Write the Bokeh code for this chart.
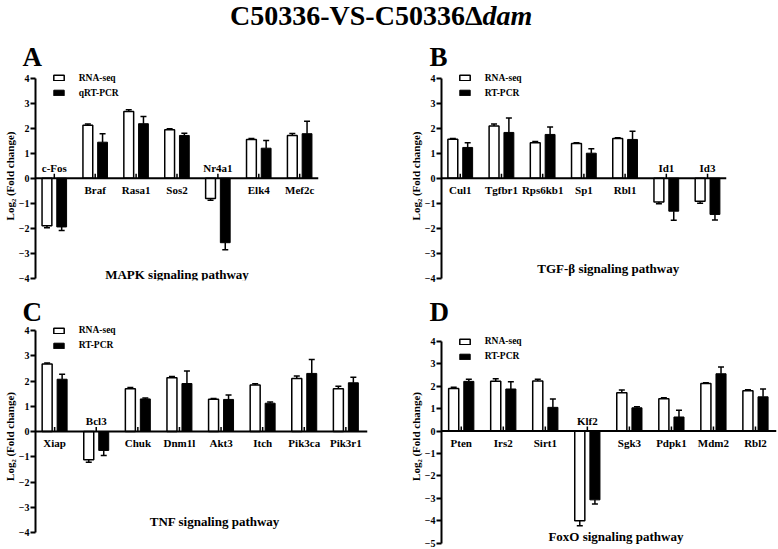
import numpy as np
from bokeh.plotting import figure
from bokeh.models import Range1d, FixedTicker, Span, Legend, LegendItem, Label, Div
from bokeh.layouts import column, row
from bokeh.embed import file_html
from bokeh.resources import INLINE
from bokeh.core.properties import value

FONT = "Liberation Serif"

# ---------------- data ----------------
a_genes = ["c-Fos", "Braf", "Rasa1", "Sos2", "Nr4a1", "Elk4", "Mef2c"]
a_rna = [-1.90, 2.12, 2.67, 1.94, -0.81, 1.55, 1.71]
a_rna_err = [0.08, 0.05, 0.07, 0.04, 0.07, 0.04, 0.08]
a_pcr = [-1.95, 1.44, 2.18, 1.71, -2.58, 1.20, 1.78]
a_pcr_err = [0.14, 0.34, 0.29, 0.09, 0.28, 0.31, 0.50]

b_genes = ["Cul1", "Tgfbr1", "Rps6kb1", "Sp1", "Rbl1", "Id1", "Id3"]
b_rna = [1.56, 2.09, 1.42, 1.39, 1.59, -0.95, -0.92]
b_rna_err = [0.03, 0.08, 0.05, 0.03, 0.03, 0.07, 0.08]
b_pcr = [1.23, 1.83, 1.75, 1.00, 1.55, -1.32, -1.45]
b_pcr_err = [0.19, 0.58, 0.30, 0.18, 0.33, 0.36, 0.22]

c_genes = ["Xiap", "Bcl3", "Chuk", "Dnm1l", "Akt3", "Itch", "Pik3ca", "Pik3r1"]
c_rna = [2.67, -1.12, 1.69, 2.13, 1.28, 1.84, 2.10, 1.69]
c_rna_err = [0.04, 0.10, 0.05, 0.05, 0.03, 0.05, 0.10, 0.10]
c_pcr = [2.07, -0.75, 1.29, 1.90, 1.27, 1.12, 2.30, 1.93]
c_pcr_err = [0.20, 0.20, 0.04, 0.50, 0.18, 0.05, 0.55, 0.22]

d_genes = ["Pten", "Irs2", "Sirt1", "Klf2", "Sgk3", "Pdpk1", "Mdm2", "Rbl2"]
d_rna = [1.90, 2.22, 2.24, -4.00, 1.71, 1.44, 2.12, 1.80]
d_rna_err = [0.06, 0.12, 0.08, 0.22, 0.12, 0.05, 0.04, 0.05]
d_pcr = [2.22, 1.88, 1.06, -3.07, 1.04, 0.63, 2.56, 1.53]
d_pcr_err = [0.09, 0.32, 0.37, 0.19, 0.05, 0.30, 0.30, 0.35]

series_names = ["RNA-seq", "qRT-PCR", "RT-PCR"]
y_label = "Log\u2082 (Fold change)"


def panel(letter, genes, rna, rna_err, pcr, pcr_err, pcr_name, pathway, path_x, path_y,
          width, height, mbl, mbr, mbt, mbb, x_start, x_end, uy, d_top, ymin_tick,
          letter_dx):
    n = len(genes)
    idx = np.arange(n, dtype=float)
    rna = np.array(rna, dtype=float)
    pcr = np.array(pcr, dtype=float)
    rna_err = np.array(rna_err, dtype=float)
    pcr_err = np.array(pcr_err, dtype=float)

    fh = height - mbt - mbb
    y_end = 4 + d_top / uy
    y_start = y_end - fh / uy

    p = figure(width=width, height=height,
               x_range=Range1d(x_start, x_end), y_range=Range1d(y_start, y_end),
               output_backend="svg", toolbar_location=None, x_axis_location=None,
               min_border_left=mbl, min_border_right=mbr,
               min_border_top=mbt, min_border_bottom=mbb)
    p.xgrid.visible = False
    p.ygrid.visible = False
    p.outline_line_color = None
    p.background_fill_color = "white"
    p.border_fill_color = "white"

    # panel letter as the plot title
    p.title.text = letter
    p.title.align = "left"
    p.title.offset = letter_dx
    p.title.standoff = 0
    p.title.text_font = FONT
    p.title.text_font_style = "bold"
    p.title.text_font_size = "27px"
    p.title.text_color = "black"

    ax = p.yaxis[0]
    ax.ticker = FixedTicker(ticks=list(range(ymin_tick, 5)))
    ax.bounds = (ymin_tick, 4)
    ax.axis_line_width = 2
    ax.axis_line_color = "black"
    ax.major_tick_line_width = 2
    ax.major_tick_line_color = "black"
    ax.major_tick_out = 5
    ax.major_tick_in = 0
    ax.minor_tick_out = 0
    ax.minor_tick_in = 0
    ax.major_label_text_font = FONT
    ax.major_label_text_font_style = "bold"
    ax.major_label_text_font_size = "10px"
    ax.major_label_text_color = "black"
    ax.major_label_standoff = 1
    ax.axis_label = y_label
    ax.axis_label_text_font = FONT
    ax.axis_label_text_font_style = "bold"
    ax.axis_label_text_font_size = "11px"
    ax.axis_label_text_color = "black"
    ax.axis_label_standoff = 0

    off = 0.18
    bw = 0.24
    r_rna = p.vbar(x=idx - off, top=rna, bottom=0, width=bw,
                   fill_color="white", line_color="black", line_width=1.5)
    r_pcr = p.vbar(x=idx + off, top=pcr, bottom=0, width=bw,
                   fill_color="black", line_color="black", line_width=1)

    # error bars (outward only)
    for xs, vals, errs in ((idx - off, rna, rna_err), (idx + off, pcr, pcr_err)):
        ends = vals + np.sign(vals) * errs
        p.segment(x0=xs, y0=vals, x1=xs, y1=ends, line_color="black", line_width=1.5)
        p.scatter(x=xs, y=ends, marker="dash", size=6, line_color="black", line_width=1.5)

    # zero line and category ticks
    p.add_layout(Span(location=0, dimension="width", line_color="black", line_width=2))
    p.segment(x0=idx, y0=0, x1=idx, y1=4.5 / uy, line_color="black", line_width=1.5)

    # gene labels
    lab_y = np.where(rna < 0, 10.5 / uy, -11.5 / uy)
    p.text(x=idx, y=lab_y, text=genes, text_font=value(FONT), text_font_style="bold",
           text_font_size="11px", text_align="center", text_baseline="middle",
           text_color="black")

    # pathway label
    p.add_layout(Label(x=path_x, y=path_y, text=pathway, text_font=FONT,
                       text_font_style="bold", text_font_size="13px",
                       text_align="center", text_baseline="middle", text_color="black"))

    # legend placed from the frame's bottom-left corner
    row_h = 15
    leg_h = 2 * row_h
    vy = fh - d_top + row_h / 2 - leg_h
    legend = Legend(items=[LegendItem(label=series_names[0], renderers=[r_rna]),
                           LegendItem(label=pcr_name, renderers=[r_pcr])],
                    location=(16.7, vy), margin=0, padding=0, spacing=0,
                    glyph_width=13, glyph_height=7, label_height=row_h,
                    label_standoff=14,
                    label_text_font=FONT, label_text_font_style="bold",
                    label_text_font_size="9.5px", label_text_baseline="middle",
                    label_text_color="black",
                    background_fill_alpha=0, border_line_alpha=0)
    p.add_layout(legend)
    return p


pA = panel("A", a_genes, a_rna, a_rna_err, a_pcr, a_pcr_err, series_names[1],
           "MAPK signaling pathway", 3.0, -3.85,
           389, 254, 33, 71, 40, 5, -0.46, 6.46, 25, 6.7, -4, -13)
pB = panel("B", b_genes, b_rna, b_rna_err, b_pcr, b_pcr_err, series_names[2],
           "TGF-\u03b2 signaling pathway", 3.59, -3.6,
           389, 254, 52, 52, 40, 5, -0.455, 6.46, 25, 6.7, -4, -12)
pC = panel("C", c_genes, c_rna, c_rna_err, c_pcr, c_pcr_err, series_names[2],
           "TNF signaling pathway", 3.85, -3.56,
           389, 264, 33, 22, 41, 3, -0.46, 7.52, 25.25, 4, -4, -13)
pD = panel("D", d_genes, d_rna, d_rna_err, d_pcr, d_pcr_err, series_names[2],
           "FoxO signaling pathway", 3.68, -4.7,
           389, 264, 52, 2, 41, 3, -0.47, 7.5, 22.4, 15, -5, -12)

title = Div(text=('<div style="font-family:\'Liberation Serif\'; font-weight:bold; '
                  'font-size:28px; line-height:31px; padding-left:230px; '
                  'white-space:nowrap; color:black;">C50336-VS-C50336\u0394<i>dam</i></div>'),
            width=778, height=31, margin=0)

layout = column(title, row(pA, pB), row(pC, pD))

with open("out.html", "w") as f:
    f.write(file_html(layout, INLINE))
